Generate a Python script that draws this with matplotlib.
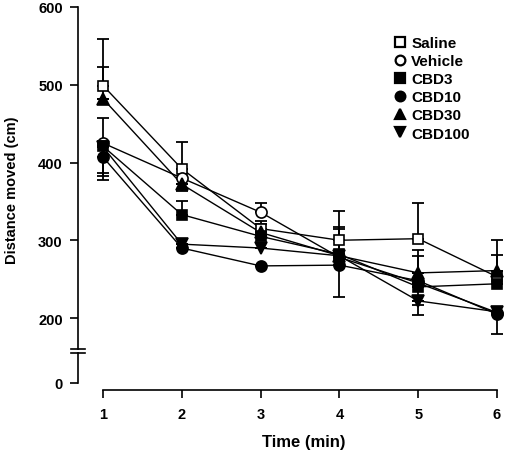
import numpy as np
import matplotlib
matplotlib.use("Agg")
import matplotlib.pyplot as plt
from matplotlib.lines import Line2D

plt.rcParams['font.family'] = ['Liberation Sans', 'DejaVu Sans']
plt.rcParams['font.weight'] = 'bold'

# ---- data ----
time_min = [1, 2, 3, 4, 5, 6]
series_names = ["Saline", "Vehicle", "CBD3", "CBD10", "CBD30", "CBD100"]
saline = [499, 392, 315, 300, 302, 253]
saline_err_up = [60, 34, 10, 38, 46, 47]
saline_err_down = [0, 0, 0, 0, 0, 0]
vehicle = [425, 380, 336, 278, 245, 207]
vehicle_err_up = [32, 0, 12, 0, 0, 0]
vehicle_err_down = [0, 0, 0, 0, 28, 0]
cbd3 = [421, 333, 305, 282, 240, 244]
cbd3_err_up = [0, 18, 0, 35, 0, 0]
cbd3_err_down = [35, 0, 0, 0, 0, 0]
cbd10 = [407, 290, 267, 268, 248, 205]
cbd10_err_up = [0, 0, 0, 0, 32, 0]
cbd10_err_down = [29, 0, 0, 41, 0, 25]
cbd30 = [482, 372, 310, 280, 258, 261]
cbd30_err_up = [41, 0, 11, 34, 30, 20]
cbd30_err_down = [0, 9, 0, 0, 0, 0]
cbd100 = [420, 295, 290, 280, 222, 208]
cbd100_err_up = [0, 0, 0, 0, 0, 0]
cbd100_err_down = [38, 0, 0, 0, 18, 0]
y_ticks = [0, 200, 300, 400, 500, 600]
x_ticks = [1, 2, 3, 4, 5, 6]

values = [saline, vehicle, cbd3, cbd10, cbd30, cbd100]
errs_up = [saline_err_up, vehicle_err_up, cbd3_err_up, cbd10_err_up, cbd30_err_up, cbd100_err_up]
errs_down = [saline_err_down, vehicle_err_down, cbd3_err_down, cbd10_err_down, cbd30_err_down, cbd100_err_down]
markers = ['s', 'o', 's', 'o', '^', 'v']
fills = ['white', 'white', 'black', 'black', 'black', 'black']
msizes = [7.5, 8, 7.5, 8, 8, 8]

# broken y scale: compressed below 150
BRK = 150.0
LOW0 = 116.4
SLOPE = (BRK - LOW0) / BRK

def fwd(v):
    v = np.asarray(v, dtype=float)
    return np.where(v >= BRK, v, LOW0 + v * SLOPE)

def inv(u):
    u = np.asarray(u, dtype=float)
    return np.where(u >= BRK, u, (u - LOW0) / SLOPE)

fig = plt.figure(figsize=(5.05, 4.6), dpi=100)
ax = fig.add_axes([78/505, (460-384)/460, (497-78)/505, (384-8)/460])
ax.set_yscale('function', functions=(fwd, inv))
ax.set_ylim(0, 600)
ax.set_xlim(0.683, 6.0)

for vals, eu, ed in zip(values, errs_up, errs_down):
    zeros = [0] * len(vals)
    ax.errorbar(time_min, vals, yerr=[zeros, eu], fmt='none', ecolor='black',
                elinewidth=1.3, capsize=4, capthick=1.3, zorder=1, clip_on=False)
    ax.errorbar(time_min, vals, yerr=[ed, zeros], fmt='none', ecolor='black',
                elinewidth=1.3, capsize=4, capthick=1.3, zorder=1, clip_on=False)
for vals in values:
    ax.plot(time_min, vals, '-', color='black', lw=1.0, zorder=2, clip_on=False)
for i, vals in enumerate(values):
    ax.plot(time_min, vals, linestyle='none', marker=markers[i], ms=msizes[i],
            mfc=fills[i], mec='black', mew=1.2, zorder=3 + i, clip_on=False)

# spines
for s in ['top', 'right']:
    ax.spines[s].set_visible(False)
ax.spines['left'].set_visible(False)
ax.spines['bottom'].set_position(('outward', 5))
ax.spines['bottom'].set_bounds(1, 6)
ax.spines['bottom'].set_linewidth(1.2)

# manual left spine with break
trans = ax.get_yaxis_transform()
ax.plot([0, 0], [0, 155], color='black', lw=1.2, transform=trans, clip_on=False, zorder=5)
ax.plot([0, 0], [160, 600], color='black', lw=1.2, transform=trans, clip_on=False, zorder=5)
ax.plot([-0.016, 0.016], [155, 155], color='black', lw=1.2, transform=trans, clip_on=False, zorder=5)
ax.plot([-0.016, 0.016], [160, 160], color='black', lw=1.2, transform=trans, clip_on=False, zorder=5)

ax.set_yticks(y_ticks)
ax.set_yticklabels([str(t) for t in y_ticks])
ax.set_xticks(x_ticks)
ax.set_xticklabels([str(t) for t in x_ticks])
ax.tick_params(axis='y', direction='out', length=6, width=1.2, pad=5, labelsize=10.5)
ax.tick_params(axis='x', direction='out', length=6, width=1.2, pad=6, labelsize=10.5)
ax.minorticks_off()

ax.set_xlabel('Time (min)', fontsize=12, fontweight='bold')
ax.xaxis.set_label_coords((304-78)/(497-78), -0.135)
ax.set_ylabel('Distance moved (cm)', fontsize=10.5, fontweight='bold')
ax.yaxis.set_label_coords(-0.14, 0.515)

handles = [Line2D([], [], linestyle='none', marker=markers[i], ms=msizes[i] - 1,
                  mfc=fills[i], mec='black', mew=1.6) for i in range(6)]
fig.legend(handles, series_names, loc='upper left', bbox_to_anchor=(393/505, (460-37)/460),
           frameon=False, borderpad=0, borderaxespad=0, handlelength=0.9,
           handletextpad=0.3, labelspacing=0.27, prop={'size': 11, 'weight': 'bold'})

fig.savefig('out.png', dpi=100)
